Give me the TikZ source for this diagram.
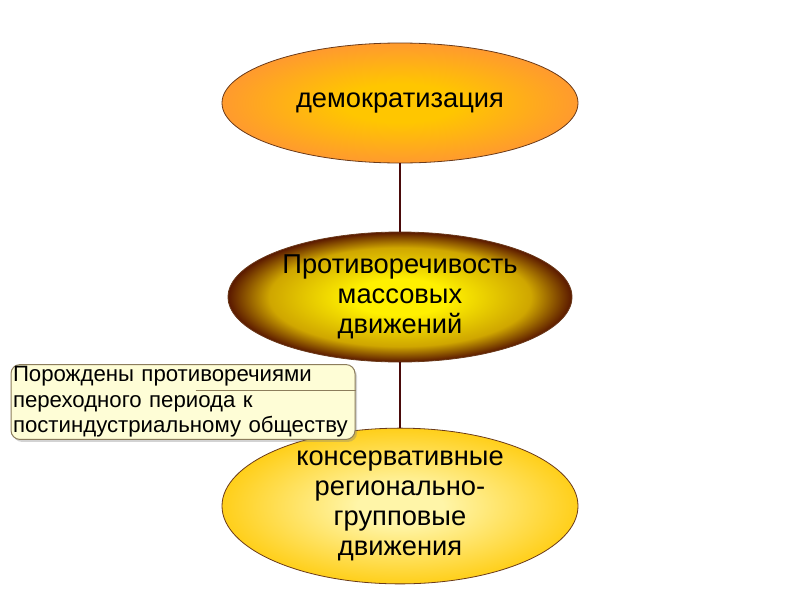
\documentclass[tikz,border=0pt]{standalone}
\usepackage{fontspec}
\setmainfont{Liberation Sans}
\usetikzlibrary{shapes.geometric,shadows}
\definecolor{topin}{HTML}{FFC600}
\definecolor{topout}{HTML}{FF9A2E}
\definecolor{midin}{HTML}{FFF000}
\definecolor{midmid}{HTML}{CFA600}
\definecolor{midout}{HTML}{5A1800}
\definecolor{botin}{HTML}{FFF5A8}
\definecolor{botout}{HTML}{FFCF1A}
\definecolor{edgec}{HTML}{6A3A1A}
\definecolor{linkc}{HTML}{4A0A0A}
\definecolor{notefill}{HTML}{FEFDD6}
\definecolor{notedraw}{HTML}{8C7D5C}
\pgfdeclareradialshading{topsh}{\pgfpoint{0bp}{0bp}}{color(0bp)=(topin); color(8bp)=(topin); color(25bp)=(topout); color(50bp)=(topout)}
\pgfdeclareradialshading{midsh}{\pgfpoint{0bp}{0bp}}{color(0bp)=(midin); color(7bp)=(midin); color(19bp)=(midmid); color(25bp)=(midout); color(50bp)=(midout)}
\pgfdeclareradialshading{botsh}{\pgfpoint{0bp}{0bp}}{color(0bp)=(botin); color(6bp)=(botin); color(25bp)=(botout); color(50bp)=(botout)}
\tikzset{
  oval/.style={ellipse, draw=edgec, line width=0.8pt, inner sep=0pt, align=center,
    font=\fontsize{27.3}{30}\selectfont, text=black},
  link/.style={draw=linkc, line width=2pt},
  notebox/.style={rectangle, rounded corners=9pt, draw=notedraw, line width=1pt, fill=notefill,
    text width=340pt, align=left, inner xsep=2pt, inner ysep=2pt, minimum height=74pt,
    font=\fontsize{22.2}{25.5}\selectfont, text=black,
    drop shadow={shadow xshift=2pt, shadow yshift=-2.5pt, opacity=0.35}}
}
\begin{document}
\begin{tikzpicture}[x=1pt,y=-1pt]
\useasboundingbox (0,0) rectangle (800,600);
\node[oval, shading=topsh, minimum width=356pt, minimum height=120pt] (top) at (400,103) {демократизация};
\node[oval, shading=midsh, minimum width=344pt, minimum height=130pt] (mid) at (400,297) {Противоречивость\\массовых\\движений};
\node[oval, shading=botsh, minimum width=356pt, minimum height=132pt] (bot) at (400,506) {консервативные\\регионально-\\групповые\\движения};
\draw[link] (top.south) -- (mid.north);
\draw[link] (mid.south) -- (bot.north);
\node[notebox] (note) at (183,402) {Порождены противоречиями\\переходного периода к\\постиндустриальному обществу};
\coordinate (f1) at ([xshift=-160pt,yshift=12pt]note.east);
\coordinate (f2) at ([yshift=12pt]note.east);
\draw[notedraw, line width=0.8pt] (f1) -- (f2);
\end{tikzpicture}
\end{document}
